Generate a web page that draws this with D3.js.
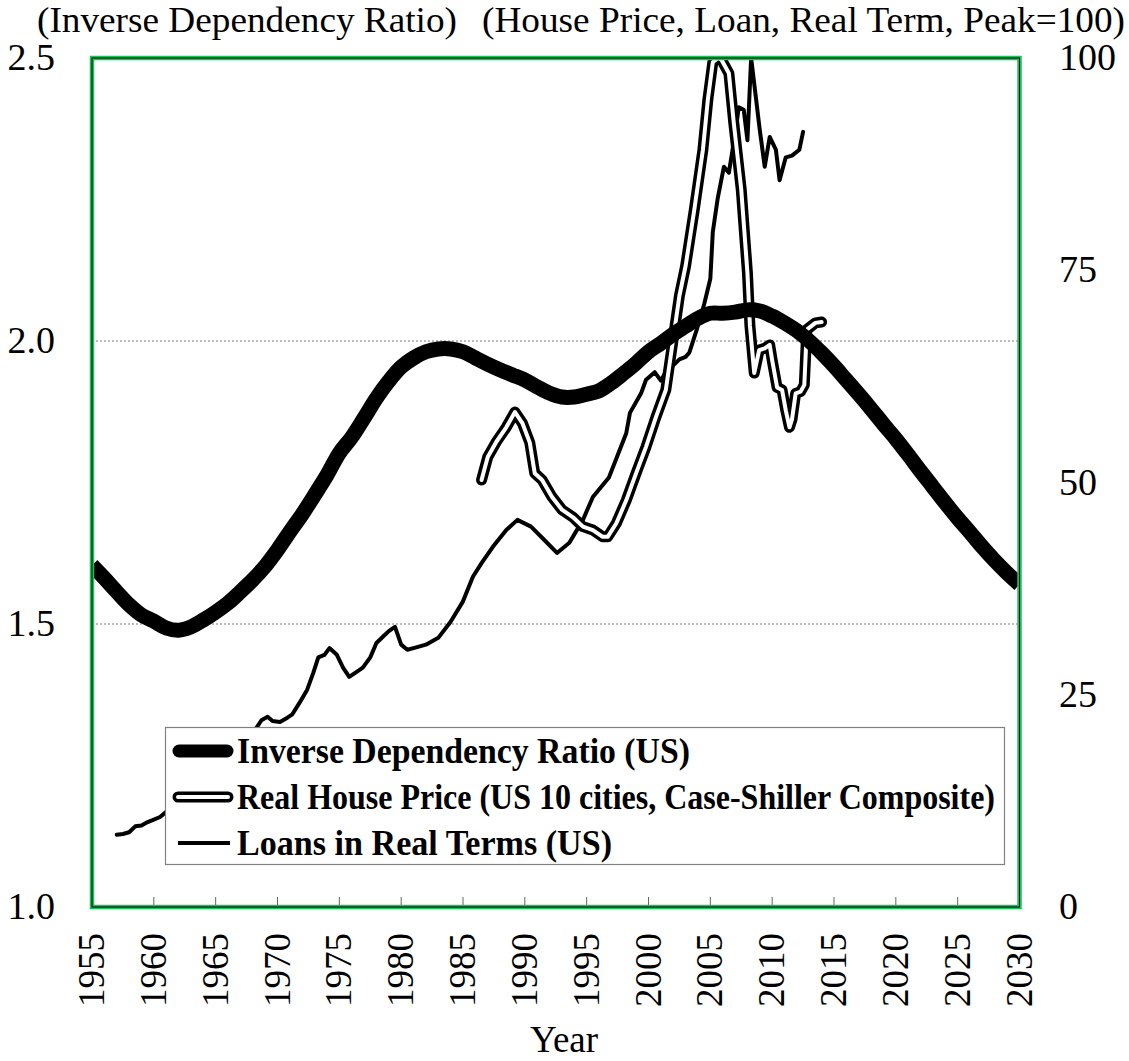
<!DOCTYPE html>
<html>
<head>
<meta charset="utf-8">
<script src="https://cdn.jsdelivr.net/npm/d3@7"></script>
<style>
  body { margin: 0; background: #fff; }
  svg text { font-family: "Liberation Serif", "Times New Roman", Times, serif; fill: #000; }
</style>
</head>
<body>
<svg id="chart" width="1129" height="1061"></svg>
<script>
// inverse dependency ratio, yearly 1955-2030 (left axis)
var depYears = d3.range(1955, 2031);
var depValues = [1.604, 1.581, 1.557, 1.534, 1.516, 1.505, 1.493, 1.489, 1.495, 1.507,
  1.521, 1.537, 1.557, 1.578, 1.602, 1.631, 1.663, 1.694, 1.728, 1.763,
  1.802, 1.830, 1.864, 1.899, 1.929, 1.954, 1.970, 1.981, 1.986, 1.986,
  1.981, 1.970, 1.959, 1.949, 1.940, 1.931, 1.919, 1.908, 1.901, 1.901,
  1.906, 1.912, 1.926, 1.943, 1.961, 1.981, 1.996, 2.012, 2.026, 2.040,
  2.049, 2.049, 2.051, 2.055, 2.053, 2.044, 2.032, 2.018, 2.000, 1.979,
  1.956, 1.931, 1.906, 1.880, 1.853, 1.827, 1.799, 1.770, 1.742, 1.714,
  1.687, 1.662, 1.636, 1.612, 1.590, 1.570];

// real house price, peak=100 (right axis)
var houseYears = [1986.5, 1987.0, 1987.7, 1988.5, 1989.2, 1989.8, 1990.4, 1990.8, 1991.4, 1992.2,
  1993.0, 1993.9, 1994.7, 1995.5, 1996.3, 1996.7, 1997.4, 1998.2, 1999.0, 1999.8,
  2000.6, 2001.4, 2002.5, 2003.0, 2003.7, 2004.4, 2004.8, 2005.2, 2005.6, 2005.9,
  2006.5, 2006.9, 2007.5, 2008.0, 2008.2, 2008.55, 2008.95, 2009.4, 2009.8, 2010.0,
  2010.4, 2010.8, 2011.1, 2011.4, 2011.6, 2011.9, 2012.3, 2012.6, 2012.8, 2013.5, 2014.0];
var houseValues = [50.3, 53.0, 54.8, 56.5, 58.3, 57.0, 54.7, 51.1, 50.3, 48.3,
  46.8, 45.9, 44.8, 44.4, 43.6, 43.6, 45.2, 47.9, 51.1, 54.2,
  57.7, 60.9, 72.0, 75.5, 82.1, 89.2, 95.1, 99.5, 100, 99.8,
  98.2, 92.3, 84.5, 74.7, 68.5, 62.9, 65.6, 65.8, 66.2, 64.4,
  61.2, 60.9, 58.5, 56.5, 57.4, 60.5, 60.7, 61.5, 68.0, 68.8, 68.9];

// loans in real terms, peak=100 (right axis)
var loanYears = [1957.0, 1957.5, 1958.0, 1958.5, 1959.0, 1959.5, 1960.0, 1960.5, 1961, 1962,
  1963, 1964, 1965, 1966, 1967, 1967.8, 1968.3, 1968.7, 1969.2, 1969.6,
  1970.2, 1970.8, 1971.2, 1971.8, 1972.4, 1972.9, 1973.3, 1973.8, 1974.2, 1974.8,
  1975.3, 1975.8, 1976.4, 1976.9, 1977.5, 1978.0, 1978.5, 1979.0, 1979.5, 1980.0,
  1980.5, 1981.0, 1982.0, 1983.0, 1984.0, 1985.0, 1985.8, 1986.5, 1987.4, 1988.5,
  1989.4, 1990.5, 1991.6, 1992.6, 1993.6, 1994.7, 1995.5, 1996.8, 1998.2, 1998.5,
  1999.4, 1999.8, 2000.5, 2001.0, 2001.5, 2002.0, 2002.5, 2003.0, 2003.3, 2003.9,
  2004.5, 2005.0, 2005.2, 2005.6, 2006.1, 2006.5, 2007.0, 2007.3, 2007.7, 2008.0,
  2008.3, 2009.0, 2009.4, 2009.8, 2010.3, 2010.6, 2011.1, 2011.6, 2012.2, 2012.5];
var loanValues = [8.5, 8.6, 8.8, 9.5, 9.6, 10.0, 10.3, 10.6, 11.2, 12.3,
  13.6, 15.2, 16.9, 18.5, 19.8, 20.6, 21.1, 22.0, 22.4, 21.9,
  21.8, 22.3, 22.7, 24.1, 25.6, 27.6, 29.4, 29.7, 30.5, 29.7,
  28.2, 27.1, 27.7, 28.2, 29.4, 31.1, 31.8, 32.5, 33.0, 30.9,
  30.3, 30.5, 30.9, 31.7, 33.6, 36.0, 38.9, 40.5, 42.4, 44.4,
  45.6, 44.8, 43.2, 41.7, 42.9, 45.6, 48.3, 50.6, 55.8, 58.2,
  60.5, 62.1, 63.0, 62.0, 63.3, 63.8, 64.5, 64.8, 65.3, 68.0,
  71.0, 74.0, 79.5, 83.5, 87.2, 86.5, 91.0, 94.2, 93.9, 90.3,
  100, 91.5, 87.2, 90.7, 89.2, 85.6, 88.3, 88.5, 89.2, 91.3];

var xTicks = d3.range(1955, 2031, 5);
var leftTicks = [1.0, 1.5, 2.0, 2.5];
var rightTicks = [0, 25, 50, 75, 100];
var gridValues = [1.5, 2.0];
var legendLabels = ["Inverse Dependency Ratio (US)",
  "Real House Price (US 10 cities, Case-Shiller Composite)",
  "Loans in Real Terms (US)"];

(function () {
    var svg = d3.select("#chart");
    var pl = 92, pr = 1019.5, pt = 58, pb = 907;
    var serif = "'Liberation Serif', 'Times New Roman', Times, serif";

    var x = d3.scaleLinear().domain([1955, 2030]).range([pl, pr]);
    var yL = d3.scaleLinear().domain([1.0, 2.5]).range([pb, pt]);
    var yR = d3.scaleLinear().domain([0, 100]).range([pb, pt]);

    function txt(g, px, py, s, size, extra) {
        return g.append("text")
            .attr("transform", "translate(" + px + "," + py + ")" + (extra || ""))
            .style("font-family", serif)
            .style("font-size", size + "px")
            .text(s);
    }

    // grid
    svg.selectAll(".grid").data(gridValues).enter().append("line")
        .attr("x1", pl).attr("x2", pr)
        .attr("y1", function (d) { return yL(d); })
        .attr("y2", function (d) { return yL(d); })
        .attr("stroke", "#777").attr("stroke-width", 1)
        .attr("stroke-dasharray", "2,2");

    // x ticks inside bottom
    svg.selectAll(".xt").data(xTicks.slice(1, -1)).enter().append("line")
        .attr("x1", function (d) { return x(d); })
        .attr("x2", function (d) { return x(d); })
        .attr("y1", pb).attr("y2", pb - 10)
        .attr("stroke", "#666").attr("stroke-width", 1);

    svg.append("clipPath").attr("id", "plotclip")
        .append("rect").attr("x", pl).attr("y", pt - 2)
        .attr("width", pr - pl).attr("height", pb - pt + 2);

    var plot = svg.append("g").attr("clip-path", "url(#plotclip)");

    // loans
    var loanLine = d3.line()
        .x(function (d, i) { return x(loanYears[i]); })
        .y(function (d) { return yR(d); });
    plot.append("path").datum(loanValues)
        .attr("d", loanLine)
        .attr("fill", "none").attr("stroke", "#000").attr("stroke-width", 4)
        .attr("stroke-linejoin", "round").attr("stroke-linecap", "round");

    // house price (double line)
    var houseLine = d3.line()
        .x(function (d, i) { return x(houseYears[i]); })
        .y(function (d) { return yR(d); });
    plot.append("path").datum(houseValues)
        .attr("d", houseLine)
        .attr("fill", "none").attr("stroke", "#000").attr("stroke-width", 11)
        .attr("stroke-linejoin", "round").attr("stroke-linecap", "round");
    plot.append("path").datum(houseValues)
        .attr("d", houseLine)
        .attr("fill", "none").attr("stroke", "#fff").attr("stroke-width", 4)
        .attr("stroke-linejoin", "round").attr("stroke-linecap", "round");

    // dependency ratio
    var depLine = d3.line()
        .x(function (d, i) { return x(depYears[i]); })
        .y(function (d) { return yL(d); })
        .curve(d3.curveCatmullRom);
    plot.append("path").datum(depValues)
        .attr("d", depLine)
        .attr("fill", "none").attr("stroke", "#000").attr("stroke-width", 15)
        .attr("stroke-linejoin", "round");

    // frame: green band with a thin black line in its middle
    svg.append("rect").attr("x", pl).attr("y", pt)
        .attr("width", pr - pl).attr("height", pb - pt)
        .attr("fill", "none").attr("stroke", "#19c15a").attr("stroke-width", 4.5);
    svg.append("rect").attr("x", pl).attr("y", pt)
        .attr("width", pr - pl).attr("height", pb - pt)
        .attr("fill", "none").attr("stroke", "#000").attr("stroke-width", 1);

    // axis labels
    leftTicks.forEach(function (v) {
        txt(svg, 55, yL(v) + 12, d3.format(".1f")(v), 38).attr("text-anchor", "end");
    });
    rightTicks.forEach(function (v) {
        txt(svg, 1059, yR(v) + 12, v, 38);
    });
    xTicks.forEach(function (v) {
        txt(svg, x(v) + 12, 933, v, 37, " rotate(-90)").attr("text-anchor", "end");
    });
    txt(svg, 564, 1052, "Year", 37).attr("text-anchor", "middle");

    txt(svg, 37, 32, "(Inverse Dependency Ratio)", 36)
        .attr("textLength", 420).attr("lengthAdjust", "spacingAndGlyphs");
    txt(svg, 482, 32, "(House Price, Loan, Real Term, Peak=100)", 36)
        .attr("textLength", 643).attr("lengthAdjust", "spacingAndGlyphs");

    // legend
    var lg = svg.append("g");
    lg.append("rect").attr("x", 165.5).attr("y", 727.5)
        .attr("width", 839).attr("height", 137)
        .attr("fill", "#fff").attr("stroke", "#808080").attr("stroke-width", 1.2);
    var rowY = [751, 797, 843];
    var legendWidths = [453, 758, 375];
    lg.append("line").attr("x1", 179).attr("x2", 227).attr("y1", rowY[0]).attr("y2", rowY[0])
        .attr("stroke", "#000").attr("stroke-width", 13).attr("stroke-linecap", "round");
    lg.append("line").attr("x1", 178).attr("x2", 228).attr("y1", rowY[1]).attr("y2", rowY[1])
        .attr("stroke", "#000").attr("stroke-width", 11).attr("stroke-linecap", "round");
    lg.append("line").attr("x1", 178).attr("x2", 228).attr("y1", rowY[1]).attr("y2", rowY[1])
        .attr("stroke", "#fff").attr("stroke-width", 4).attr("stroke-linecap", "round");
    lg.append("line").attr("x1", 178).attr("x2", 230).attr("y1", rowY[2]).attr("y2", rowY[2])
        .attr("stroke", "#000").attr("stroke-width", 4);
    legendLabels.forEach(function (s, i) {
        txt(lg, 237, rowY[i] + 12, s, 35)
            .style("font-weight", "bold")
            .attr("textLength", legendWidths[i]).attr("lengthAdjust", "spacingAndGlyphs");
    });
})();
</script>
</body>
</html>
